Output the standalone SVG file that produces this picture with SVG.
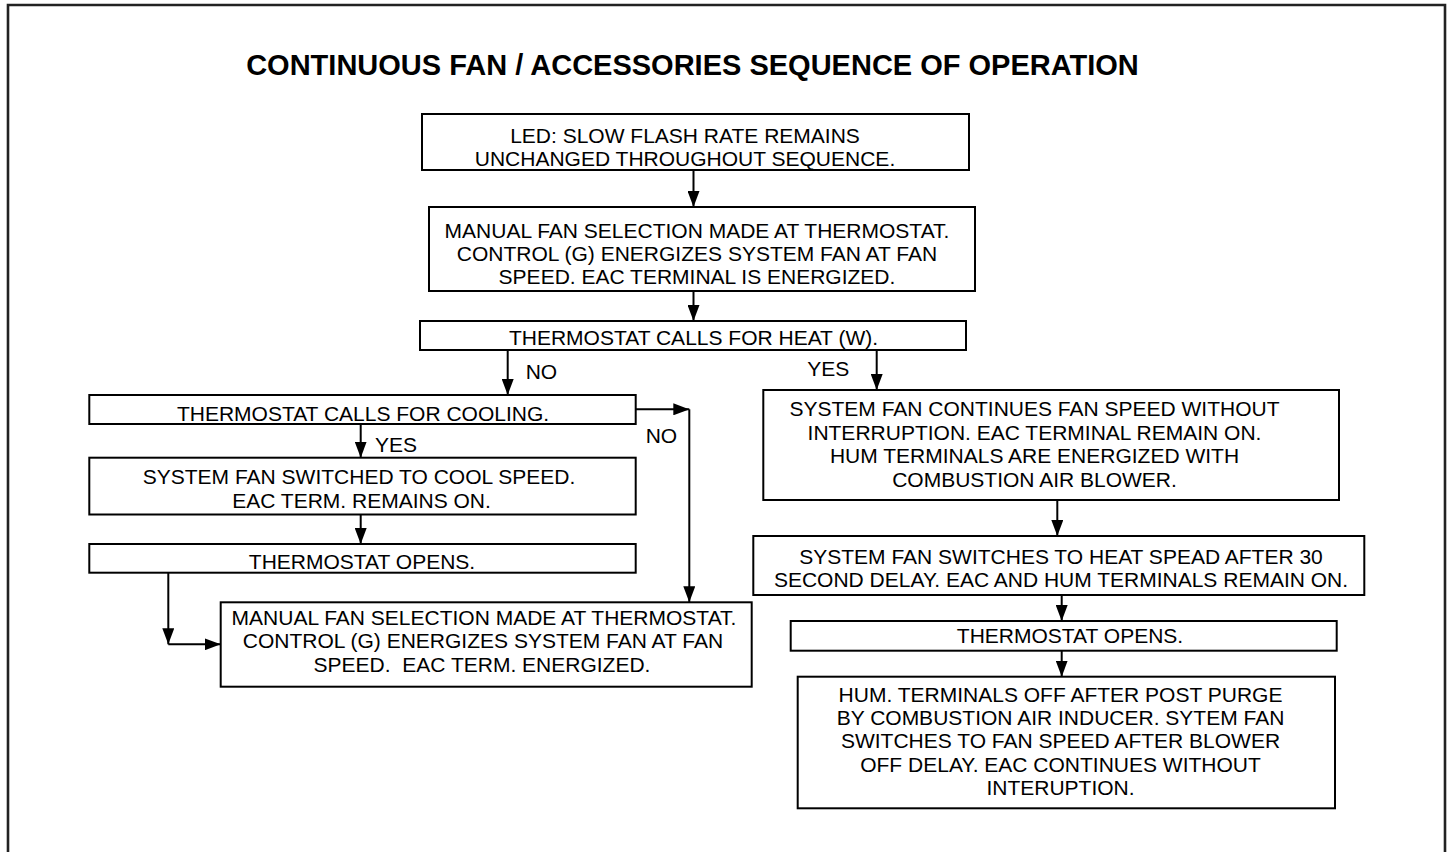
<svg xmlns="http://www.w3.org/2000/svg" width="1452" height="852" viewBox="0 0 1452 852">
<style>
  .box { fill: #fff; stroke: #000; stroke-width: 2; }
  .t { font-family: "Liberation Sans", Arial, sans-serif; font-size: 21px; fill: #000; text-anchor: middle; }
  .lbl { font-family: "Liberation Sans", Arial, sans-serif; font-size: 21px; fill: #000; }
  .title { font-family: "Liberation Sans", Arial, sans-serif; font-size: 29px; font-weight: bold; fill: #000; text-anchor: middle; }
  .c { fill: none; stroke: #000; stroke-width: 2; marker-end: url(#ah); }
</style>
<defs>
  <marker id="ah" markerUnits="userSpaceOnUse" markerWidth="16" markerHeight="12" refX="16" refY="6" orient="auto">
    <path d="M0,0 L16,6 L0,12 Z" fill="#000"/>
  </marker>
</defs>
<rect width="1452" height="852" fill="#fff"/>
<path d="M8,860 V5 H1445 V860" fill="none" stroke="#222" stroke-width="2.6"/>
<text class="title" x="692.5" y="75">CONTINUOUS FAN / ACCESSORIES SEQUENCE OF OPERATION</text>

<g id="connectors">
  <path class="c" d="M693.5,170 V207"/>
  <path class="c" d="M693.5,291 V321"/>
  <path class="c" d="M507.7,350 V395"/>
  <path class="c" d="M876.7,350 V390"/>
  <path class="c" d="M360.7,424 V457.7"/>
  <path class="c" d="M360.7,514.5 V544"/>
  <path class="c" d="M635.7,409.3 H689.3"/>
  <path class="c" d="M689.3,409.3 V602.3"/>
  <path class="c" d="M168.3,572.7 V644.3"/>
  <path class="c" d="M168.3,644.3 H220.7"/>
  <path class="c" d="M1057.3,500 V536"/>
  <path class="c" d="M1061.7,595 V621"/>
  <path class="c" d="M1061.7,650.7 V676.7"/>
  <text class="lbl" x="525.7" y="379.3">NO</text>
  <text class="lbl" x="375" y="452.3">YES</text>
  <text class="lbl" x="645.7" y="442.7">NO</text>
  <text class="lbl" x="807.3" y="375.7">YES</text>
</g>

<g id="led">
  <rect class="box" x="422" y="114" width="547" height="56"/>
  <text class="t" x="685" y="143.3">LED: SLOW FLASH RATE REMAINS</text>
  <text class="t" x="685" y="166">UNCHANGED THROUGHOUT SEQUENCE.</text>
</g>

<g id="manual1">
  <rect class="box" x="429" y="207" width="546" height="84"/>
  <text class="t" x="697" y="238">MANUAL FAN SELECTION MADE AT THERMOSTAT.</text>
  <text class="t" x="697" y="261">CONTROL (G) ENERGIZES SYSTEM FAN AT FAN</text>
  <text class="t" x="697" y="284">SPEED. EAC TERMINAL IS ENERGIZED.</text>
</g>

<g id="heat">
  <rect class="box" x="420" y="321" width="546" height="29"/>
  <text class="t" x="693.5" y="345">THERMOSTAT CALLS FOR HEAT (W).</text>
</g>

<g id="cooling">
  <rect class="box" x="89.3" y="395" width="546.4" height="29"/>
  <text class="t" x="363" y="420.7">THERMOSTAT CALLS FOR COOLING.</text>
</g>

<g id="coolspeed">
  <rect class="box" x="89.3" y="457.7" width="546.4" height="56.8"/>
  <text class="t" x="359" y="484">SYSTEM FAN SWITCHED TO COOL SPEED.</text>
  <text class="t" x="361.5" y="508.3">EAC TERM. REMAINS ON.</text>
</g>

<g id="opens1">
  <rect class="box" x="89.3" y="544" width="546.4" height="28.7"/>
  <text class="t" x="362" y="569">THERMOSTAT OPENS.</text>
</g>

<g id="manual2">
  <rect class="box" x="220.7" y="602.3" width="531" height="84.4"/>
  <text class="t" x="484" y="625">MANUAL FAN SELECTION MADE AT THERMOSTAT.</text>
  <text class="t" x="483" y="648.3">CONTROL (G) ENERGIZES SYSTEM FAN AT FAN</text>
  <text class="t" x="482" y="671.7" xml:space="preserve">SPEED.  EAC TERM. ENERGIZED.</text>
</g>

<g id="fancontinues">
  <rect class="box" x="763.3" y="390" width="575.7" height="110"/>
  <text class="t" x="1034.5" y="416">SYSTEM FAN CONTINUES FAN SPEED WITHOUT</text>
  <text class="t" x="1034.5" y="439.5">INTERRUPTION. EAC TERMINAL REMAIN ON.</text>
  <text class="t" x="1034.5" y="463">HUM TERMINALS ARE ENERGIZED WITH</text>
  <text class="t" x="1034.5" y="486.5">COMBUSTION AIR BLOWER.</text>
</g>

<g id="heatspeed">
  <rect class="box" x="753.3" y="536" width="611" height="59"/>
  <text class="t" x="1061" y="564">SYSTEM FAN SWITCHES TO HEAT SPEAD AFTER 30</text>
  <text class="t" x="1061" y="586.7">SECOND DELAY. EAC AND HUM TERMINALS REMAIN ON.</text>
</g>

<g id="opens2">
  <rect class="box" x="790.7" y="621" width="546" height="29.7"/>
  <text class="t" x="1070" y="642.7">THERMOSTAT OPENS.</text>
</g>

<g id="humoff">
  <rect class="box" x="797.7" y="676.7" width="537.3" height="131.6"/>
  <text class="t" x="1060.5" y="701.7">HUM. TERMINALS OFF AFTER POST PURGE</text>
  <text class="t" x="1060.5" y="725">BY COMBUSTION AIR INDUCER. SYTEM FAN</text>
  <text class="t" x="1060.5" y="748.3">SWITCHES TO FAN SPEED AFTER BLOWER</text>
  <text class="t" x="1060.5" y="771.7">OFF DELAY. EAC CONTINUES WITHOUT</text>
  <text class="t" x="1060.5" y="795">INTERUPTION.</text>
</g>
</svg>
